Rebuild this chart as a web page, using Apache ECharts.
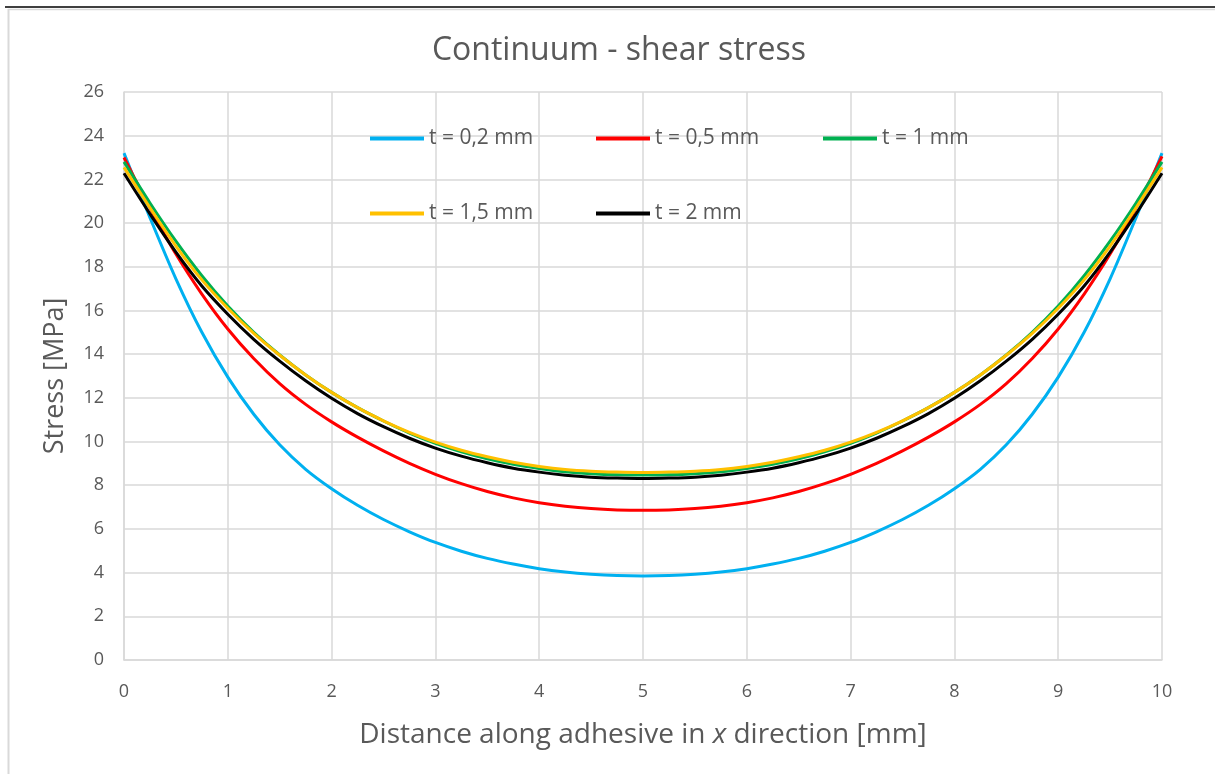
<!DOCTYPE html>
<html>
<head>
<meta charset="utf-8">
<script src="https://cdn.jsdelivr.net/npm/echarts@6/dist/echarts.min.js"></script>
<style>
html,body{margin:0;padding:0;background:#fff;}
#chart{width:1215px;height:774px;}
</style>
</head>
<body>
<div id="chart"></div>
<script>
// x positions along adhesive [mm]
const xValues = [0,0.25,0.5,0.75,1,1.25,1.5,1.75,2,2.25,2.5,2.75,3,3.25,3.5,3.75,4,4.25,4.5,4.75,5,5.25,5.5,5.75,6,6.25,6.5,6.75,7,7.25,7.5,7.75,8,8.25,8.5,8.75,9,9.25,9.5,9.75,10];

const seriesNames = ['t = 0,2 mm','t = 0,5 mm','t = 1 mm','t = 1,5 mm','t = 2 mm'];
const seriesColors = ['#00B0F0','#FF0000','#00B050','#FFC000','#000000'];

const t02 = [23.2,20.25,17.45,15.0,12.95,11.25,9.85,8.73,7.84,7.08,6.43,5.87,5.38,4.98,4.65,4.39,4.18,4.03,3.93,3.87,3.85,3.87,3.93,4.03,4.18,4.39,4.65,4.98,5.38,5.87,6.43,7.08,7.84,8.73,9.85,11.25,12.95,15.0,17.45,20.25,23.2];
const t05 = [23.0,20.7,18.58,16.75,15.15,13.8,12.65,11.7,10.9,10.2,9.57,9.0,8.5,8.07,7.71,7.42,7.2,7.04,6.93,6.87,6.85,6.87,6.93,7.04,7.2,7.42,7.71,8.07,8.5,9.0,9.57,10.2,10.9,11.7,12.65,13.8,15.15,16.75,18.58,20.7,23.05];
const t1 = [22.8,20.92,19.17,17.59,16.2,15.0,13.96,13.05,12.25,11.55,10.94,10.39,9.92,9.53,9.21,8.96,8.77,8.62,8.53,8.48,8.47,8.48,8.53,8.62,8.77,8.96,9.21,9.53,9.92,10.39,10.94,11.55,12.25,13.05,13.96,15.0,16.2,17.59,19.17,20.92,22.8];
const t15 = [22.55,20.7,18.95,17.4,16.1,14.95,13.95,13.05,12.25,11.55,10.95,10.42,9.97,9.6,9.3,9.05,8.86,8.72,8.64,8.6,8.58,8.6,8.64,8.72,8.86,9.05,9.3,9.6,9.97,10.42,10.95,11.55,12.25,13.05,13.95,14.95,16.1,17.4,18.95,20.7,22.55];
const t2 = [22.28,20.42,18.67,17.12,15.83,14.68,13.68,12.78,11.98,11.28,10.68,10.15,9.7,9.33,9.03,8.78,8.6,8.46,8.37,8.33,8.31,8.33,8.37,8.46,8.6,8.78,9.03,9.33,9.7,10.15,10.68,11.28,11.98,12.78,13.68,14.68,15.83,17.12,18.67,20.42,22.28];

const allValues = [t02, t05, t1, t15, t2];

const FONT = "'Open Sans', 'Liberation Sans', sans-serif";
const TXT = '#595959';
const GRID = '#d9d9d9';

const chart = echarts.init(document.getElementById('chart'), null, {renderer:'canvas'});

const series = seriesNames.map((name, i) => ({
  name: name,
  type: 'line',
  data: xValues.map((x, j) => [x, allValues[i][j]]),
  smooth: 0.3,
  showSymbol: false,
  symbol: 'none',
  lineStyle: {width: 3, color: seriesColors[i]},
  itemStyle: {color: seriesColors[i]},
  z: 2 + i
}));

// legend slots (one legend per entry, laid out in two rows like the reference)
const legendSlots = [[365,123],[591,123],[818,123],[365,198],[591,198]];
const legends = seriesNames.map((name, i) => ({
  left: legendSlots[i][0],
  top: legendSlots[i][1],
  icon: 'rect',
  itemWidth: 54,
  itemHeight: 4,
  itemGap: 0,
  data: [name],
  textStyle: {fontFamily: FONT, fontSize: 21, color: TXT}
}));

chart.setOption({
  backgroundColor: '#ffffff',
  animation: false,
  title: {
    text: 'Continuum - shear stress',
    left: 614,
    top: 30,
    textAlign: 'center',
    textStyle: {fontFamily: FONT, fontSize: 32, fontWeight: 'normal', color: TXT}
  },
  legend: legends,
  grid: {left: 124, right: 53, top: 92, bottom: 114, containLabel: false},
  xAxis: {
    type: 'value',
    min: 0, max: 10, interval: 1,
    name: '{a|Distance along adhesive in }{b|x}{a| direction [mm]}',
    nameLocation: 'middle',
    nameGap: 61,
    nameTextStyle: {
      rich: {
        a: {fontFamily: FONT, fontSize: 28, color: TXT},
        b: {fontFamily: FONT, fontSize: 28, color: TXT, fontStyle: 'italic'}
      }
    },
    axisLine: {show: true, lineStyle: {color: GRID, width: 1.5}},
    axisTick: {show: false},
    axisLabel: {fontFamily: FONT, fontSize: 18, color: TXT, margin: 23},
    splitLine: {show: true, lineStyle: {color: GRID, width: 1.5}}
  },
  yAxis: {
    type: 'value',
    min: 0, max: 26, interval: 2,
    name: 'Stress [MPa]',
    nameLocation: 'middle',
    nameGap: 55,
    nameTextStyle: {fontFamily: FONT, fontSize: 27, color: TXT},
    axisLine: {show: true, lineStyle: {color: GRID, width: 1.5}},
    axisTick: {show: false},
    axisLabel: {fontFamily: FONT, fontSize: 18, color: TXT, margin: 20},
    splitLine: {show: true, lineStyle: {color: GRID, width: 1.5}}
  },
  graphic: [
    {type: 'line', shape: {x1: 5, y1: 7, x2: 1215, y2: 7}, style: {stroke: '#000000', lineWidth: 1.5}, silent: true},
    {type: 'line', shape: {x1: 8, y1: 9.5, x2: 1215, y2: 9.5}, style: {stroke: GRID, lineWidth: 1.5}, silent: true},
    {type: 'line', shape: {x1: 8.5, y1: 9, x2: 8.5, y2: 774}, style: {stroke: GRID, lineWidth: 2}, silent: true}
  ],
  series: series
});
</script>
</body>
</html>
